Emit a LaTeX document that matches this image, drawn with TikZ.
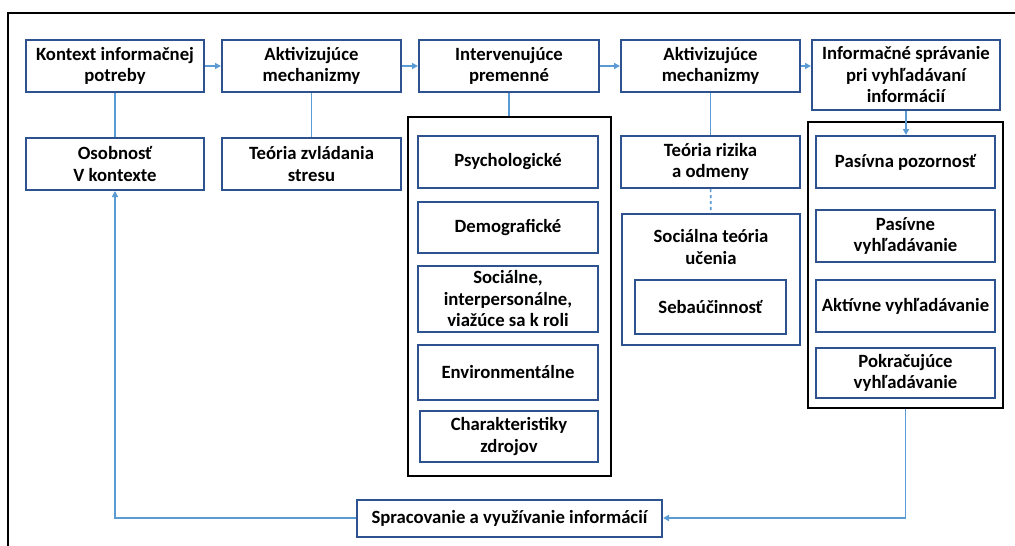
\documentclass[tikz,border=0pt]{standalone}
\usepackage{fontspec}
\setmainfont{Carlito}
\usetikzlibrary{arrows.meta}
\definecolor{boxblue}{HTML}{2E5290}
\definecolor{linkblue}{HTML}{5B9BD5}
\begin{document}
\begin{tikzpicture}[x=1pt,y=-1pt,
  box/.style={draw=boxblue, line width=2pt, fill=white, align=center,
    inner sep=0pt, font=\fontsize{18.7}{21.5}\selectfont\bfseries},
  grp/.style={draw=black, line width=2.2pt, inner sep=0pt},
  link/.style={draw=linkblue, line width=1.7pt},
  arr/.style={link, -{Triangle[length=6pt,width=6pt]}}]
\useasboundingbox (0,0) rectangle (1015,546);
\fill[white] (0,0) rectangle (1015,546);
% outer frame (left and top edges)
\draw[line width=1.5pt] (8,546) -- (8,13) -- (1015,13);

% groups
\node (g1) [grp, minimum width=203pt, minimum height=359pt] at (509.5,296.5) {};
\node (g2) [grp, minimum width=195pt, minimum height=286pt] at (905.5,265) {};

% top row
\node (n1) [box, minimum width=178pt, minimum height=52pt] at (115,66) {Kontext informačnej\\potreby};
\node (n2) [box, minimum width=179pt, minimum height=52pt] at (311.5,66) {Aktivizujúce\\mechanizmy};
\node (n3) [box, minimum width=180pt, minimum height=52pt] at (509,66) {Intervenujúce\\premenné};
\node (n4) [box, minimum width=179pt, minimum height=52pt] at (710.5,66) {Aktivizujúce\\mechanizmy};
\node (n5) [box, minimum width=188pt, minimum height=70pt] at (906,75) {Informačné správanie\\pri vyhľadávaní\\informácií};

% second row
\node (o1) [box, minimum width=178pt, minimum height=52pt] at (115,164) {Osobnosť\\V kontexte};
\node (t1) [box, minimum width=179pt, minimum height=52pt] at (311.5,164) {Teória zvládania\\stresu};

% intervening variables
\node (p1) [box, minimum width=180pt, minimum height=52pt] at (508,162) {Psychologické};
\node (p2) [box, minimum width=180pt, minimum height=51pt] at (508,227.5) {Demografické};
\node (p3) [box, minimum width=180pt, minimum height=66pt] at (508,299) {Sociálne,\\interpersonálne,\\viažúce sa k roli};
\node (p4) [box, minimum width=180pt, minimum height=55pt] at (508,372.5) {Environmentálne};
\node (p5) [box, minimum width=178pt, minimum height=51pt] at (509,436.5) {Charakteristiky\\zdrojov};

% risk / learning theories
\node (r1) [box, minimum width=179pt, minimum height=52pt] at (710.5,162) {Teória rizika\\a odmeny};
\node (s1) [box, minimum width=178pt, minimum height=131pt] at (711,279.5) {};
\node (s1t) [box, draw=none, fill=none] at (711,247) {Sociálna teória\\učenia};
\node (s2) [box, minimum width=151pt, minimum height=54pt] at (710.5,307) {Sebaúčinnosť};

% information seeking behaviours
\node (q1) [box, minimum width=179pt, minimum height=52pt] at (905.5,162) {Pasívna pozornosť};
\node (q2) [box, minimum width=179pt, minimum height=52pt] at (905.5,236) {Pasívne\\vyhľadávanie};
\node (q3) [box, minimum width=179pt, minimum height=52pt] at (905.5,306) {Aktívne vyhľadávanie};
\node (q4) [box, minimum width=179pt, minimum height=50pt] at (905.5,373) {Pokračujúce\\vyhľadávanie};

% bottom
\node (sp) [box, minimum width=305pt, minimum height=37pt] at (509.5,518) {Spracovanie a využívanie informácií};

% connectors
\draw[arr] (n1) -- (n2);
\draw[arr] (n2) -- (n3);
\draw[arr] (n3) -- (n4);
\draw[arr] (n4.east) -- (n5.west |- n4.east);
\draw[link] (n1) -- (o1);
\draw[link] (n2) -- (t1);
\draw[link] (n3.south) -- (n3.south |- g1.north);
\draw[link] (n4) -- (r1);
\draw[link, dashed] (r1) -- (s1);
\draw[arr] (n5.south) -- (n5.south |- q1.north);
\draw[arr] (g2.south) |- (sp.east);
\draw[arr] (sp.west) -| (o1.south);
\end{tikzpicture}
\end{document}
